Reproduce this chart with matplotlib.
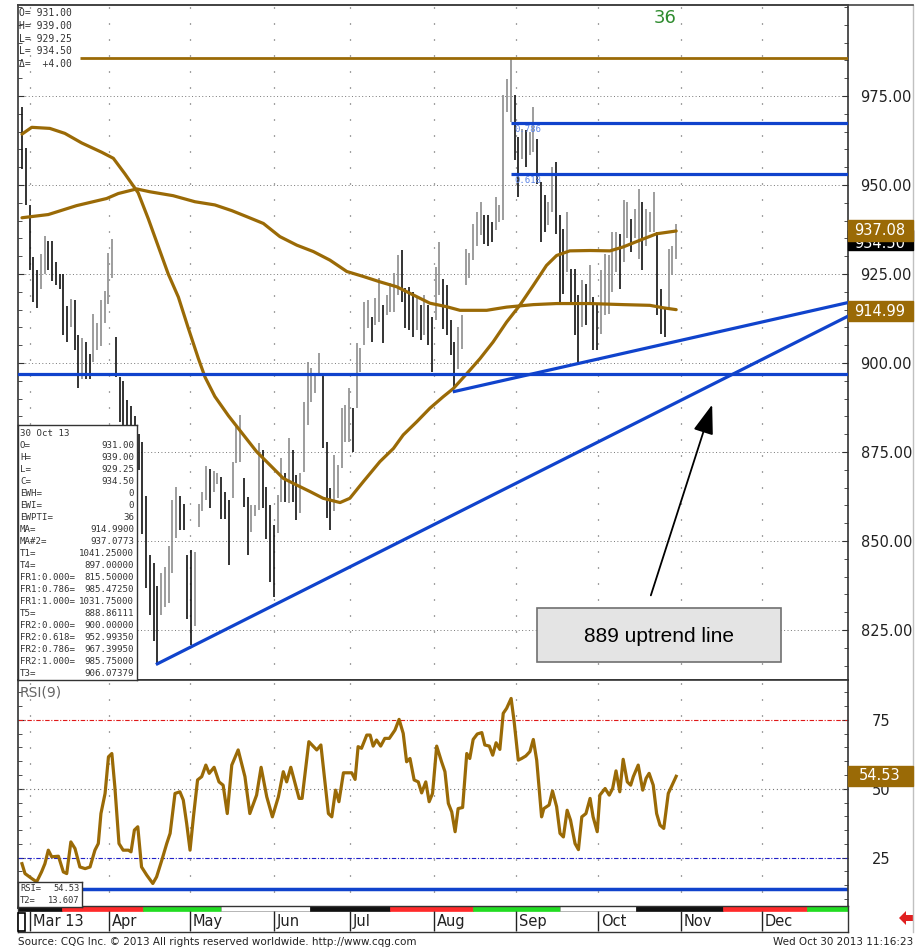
import matplotlib
matplotlib.use("Agg")
import matplotlib.pyplot as plt
from matplotlib.patches import Rectangle, Polygon
from matplotlib.lines import Line2D
from matplotlib.ticker import MultipleLocator, FixedLocator
from matplotlib.transforms import Bbox
import numpy as np

plt.rcParams['font.family'] = ['Liberation Sans Narrow', 'DejaVu Sans']

# Дневные бары (high / low), индекс = торговый день начиная с начала марта
highs = [
    971.8, 960.5, 944.4, 929.9, 926.2, 930.5, 935.8, 934.2, 934.2, 928.3,
    925.0, 925.0, 916.0, 918.1, 917.6, 907.9, 906.9, 905.8, 902.6, 913.8,
    911.2, 917.6, 920.3, 931.0, 934.8, 907.4, 896.1, 895.0, 889.7, 888.0,
    885.0, 880.0, 877.7, 862.6, 846.0, 843.8, 837.4, 841.1, 842.7, 848.7,
    861.6, 865.3, 862.6, 860.5, 846.0, 847.6, 847.0, 860.5, 863.7, 871.2,
    870.1, 869.6, 869.0, 868.0, 863.7, 861.6, 872.3, 882.0, 885.3, 867.6,
    862.5, 860.1, 860.0, 877.4, 875.6, 865.3, 860.1, 854.5, 862.9, 873.2,
    869.0, 878.8, 875.6, 868.5, 869.0, 889.1, 900.4, 898.5, 896.7, 902.7,
    896.6, 877.9, 864.8, 874.2, 871.3, 887.3, 888.2, 892.9, 887.3, 905.5,
    904.1, 917.2, 917.7, 913.0, 918.2, 923.8, 916.3, 919.1, 922.4, 925.2,
    930.3, 931.7, 921.0, 921.4, 920.0, 918.6, 916.3, 919.1, 916.3, 913.0,
    927.1, 934.1, 923.7, 921.8, 912.0, 905.9, 910.1, 913.4, 932.1, 931.0,
    939.1, 942.4, 945.2, 941.5, 941.5, 939.6, 946.6, 944.3, 975.2, 979.9,
    985.75, 975.2, 963.5, 965.8, 965.4, 964.9, 971.9, 963.0, 950.8, 947.1,
    945.2, 955.1, 956.5, 941.5, 937.7, 942.4, 926.5, 926.5, 919.0, 923.2,
    922.2, 927.4, 918.5, 916.2, 926.0, 930.7, 930.2, 936.8, 936.8, 936.3,
    945.7, 945.2, 940.5, 943.3, 949.0, 945.2, 943.3, 942.4, 948.0, 936.8,
    920.9, 915.3, 932.1, 933.0, 939.0]
lows = [
    954.6, 944.4, 926.2, 917.1, 915.4, 920.8, 925.0, 926.2, 922.9, 921.9,
    920.8, 907.9, 905.8, 910.1, 903.6, 892.9, 895.6, 895.6, 895.6, 900.4,
    903.6, 904.7, 911.2, 916.5, 924.0, 896.1, 883.3, 880.0, 878.0, 875.0,
    872.0, 870.0, 851.9, 836.8, 829.3, 821.8, 815.5, 829.3, 831.5, 832.5,
    841.1, 850.8, 853.0, 853.0, 828.2, 820.7, 826.1, 854.0, 858.3, 861.6,
    859.4, 863.7, 866.0, 856.3, 856.3, 843.3, 862.0, 871.8, 872.3, 859.6,
    846.1, 852.6, 857.0, 858.7, 859.2, 850.7, 838.6, 834.4, 852.2, 861.0,
    861.0, 860.6, 861.0, 855.9, 858.0, 869.5, 882.6, 889.1, 891.5, 896.6,
    876.0, 856.4, 853.1, 858.3, 862.0, 870.4, 877.9, 877.9, 875.1, 887.3,
    897.6, 905.0, 909.7, 906.0, 910.7, 911.6, 905.5, 913.5, 914.4, 914.4,
    919.1, 917.2, 909.7, 909.3, 907.4, 909.3, 906.5, 907.9, 905.0, 897.6,
    912.1, 919.1, 909.6, 907.8, 902.2, 892.8, 898.4, 904.0, 921.8, 924.0,
    928.8, 933.0, 935.9, 933.5, 933.0, 934.0, 937.3, 939.6, 940.1, 970.5,
    967.7, 956.9, 946.6, 957.4, 955.0, 958.3, 959.3, 950.4, 934.0, 936.8,
    938.7, 942.4, 936.3, 916.7, 919.5, 925.6, 917.1, 907.8, 900.3, 910.1,
    910.6, 917.1, 903.6, 903.6, 908.2, 913.4, 913.9, 919.9, 925.6, 920.9,
    928.4, 935.0, 931.2, 935.0, 929.3, 926.0, 933.0, 936.8, 936.8, 913.4,
    908.2, 907.3, 915.3, 924.6, 929.25]

# скользящие средние
ma2_x = [0, 2.6, 7.4, 11.4, 15.9, 21.2, 24.3, 27.4, 30.9, 33.6, 36.3, 38.9, 41.6,
         44.2, 46.9, 48.7, 51.3, 54.9, 58.9, 62.4, 66.0, 69.5, 73.1, 76.6, 80.1,
         84.6, 87.2, 90.8, 95.2, 98.8, 101.4, 105.0, 108.5, 112.0, 114.7, 118.3,
         121.8, 125.3, 128.9, 132.4, 136.0, 139.5, 142.2, 145.7, 151.1, 156.4,
         159.9, 164.4, 168.8, 174]
ma2_y = [964.3, 966.2, 965.9, 964.5, 961.8, 959.2, 957.5, 953.1, 947.8, 940.5,
         932.6, 925.0, 918.5, 909.9, 901.3, 896.0, 890.6, 885.2, 879.8, 875.1,
         871.3, 867.6, 865.7, 863.9, 862.0, 860.8, 862.0, 866.7, 872.3, 876.0,
         879.8, 883.5, 887.3, 890.5, 892.8, 897.0, 901.2, 905.9, 911.5, 916.2,
         921.8, 927.4, 930.2, 931.5, 931.6, 931.5, 932.6, 934.5, 936.3, 937.08]
ma_x = [0, 7.0, 14.5, 22.5, 25.6, 30.5, 34.0, 40.2, 46.0, 51.3, 55.8, 59.8, 64.2,
        68.6, 73.1, 77.5, 81.9, 86.4, 90.8, 95.2, 99.7, 104.1, 108.5, 113.0,
        116.5, 123.6, 128.9, 136.0, 142.2, 151.1, 159.9, 167.0, 170.6, 174]
ma_y = [940.8, 941.7, 944.2, 946.2, 947.6, 948.9, 948.1, 947.0, 945.3, 944.4,
        942.8, 941.1, 939.2, 935.5, 933.1, 931.3, 928.9, 925.7, 924.3, 922.8,
        921.4, 919.1, 916.8, 915.8, 914.8, 914.8, 915.7, 916.4, 916.7, 916.7,
        916.4, 916.2, 915.5, 914.99]

# RSI(9)
rsi_x = [0, 0.8, 2.6, 3.9, 5.2, 6.1, 7.0, 7.9, 9.7, 11.0, 11.9, 13.0, 14.1, 15.4,
         16.8, 18.1, 19.4, 20.3, 21.0, 22.1, 23.0, 23.9, 24.7, 25.8, 26.9, 28.3,
         29.0, 29.9, 30.8, 31.8, 33.2, 34.8, 35.8, 37.2, 38.5, 39.4, 40.7, 42.0,
         42.9, 43.8, 44.7, 45.6, 46.7, 47.8, 48.9, 49.8, 51.1, 52.4, 53.5, 54.6,
         55.8, 57.5, 59.3, 60.6, 62.4, 63.6, 65.1, 66.6, 68.2, 69.5, 70.4, 71.5,
         73.7, 74.5, 76.3, 78.4, 79.5, 81.5, 82.4, 83.4, 84.3, 85.5, 87.7, 88.6,
         89.4, 90.3, 91.7, 92.6, 93.4, 94.3, 95.4, 96.5, 97.7, 99.2, 100.3, 101.4,
         102.3, 103.2, 104.3, 105.4, 106.3, 107.4, 108.3, 109.2, 110.3, 111.6,
         112.5, 113.4, 114.3, 115.2, 116.0, 117.2, 118.3, 119.1, 120.0, 121.1,
         122.3, 123.1, 124.3, 125.2, 126.1, 127.1, 128.0, 128.9, 130.1, 130.9,
         132.0, 132.9, 134.0, 135.1, 136.0, 136.9, 138.2, 138.8, 140.2, 141.1,
         142.2, 143.1, 144.0, 145.0, 145.9, 147.1, 148.0, 148.9, 150.0, 151.1,
         151.9, 153.0, 153.7, 155.1, 156.2, 157.1, 158.0, 159.0, 159.9, 161.0,
         161.9, 162.6, 163.9, 165.1, 166.0, 166.8, 167.9, 168.8, 169.7, 170.7,
         171.9, 174.0]
rsi_y = [22.8, 19.2, 17.4, 16.2, 19.8, 22.8, 27.7, 25.3, 25.5, 19.8, 19.2, 30.7,
         28.3, 21.6, 21.0, 21.6, 27.7, 30.1, 41.0, 48.3, 61.6, 62.8, 50.7, 30.1,
         27.7, 27.7, 27.1, 35.0, 36.2, 21.6, 18.6, 15.6, 18.0, 24.1, 30.1, 33.8,
         48.3, 48.9, 45.9, 37.4, 27.7, 39.8, 53.2, 54.4, 58.6, 55.6, 57.8, 52.5,
         51.3, 41.0, 58.6, 64.1, 54.4, 41.0, 47.7, 57.8, 47.1, 39.8, 47.1, 56.2,
         52.5, 57.8, 46.5, 46.5, 67.1, 64.1, 65.9, 41.0, 39.8, 49.5, 45.3, 55.8,
         55.8, 53.4, 65.3, 64.7, 69.5, 69.5, 65.5, 67.7, 65.5, 68.3, 68.3, 71.3,
         75.2, 70.1, 59.8, 61.0, 53.2, 52.5, 48.5, 52.5, 45.3, 48.3, 65.5, 59.8,
         56.2, 44.7, 41.6, 34.4, 42.8, 43.2, 62.8, 61.0, 67.9, 69.9, 70.4, 65.9,
         65.5, 62.2, 66.7, 64.3, 77.4, 79.2, 82.8, 74.4, 60.4, 61.0, 61.9, 63.5,
         67.9, 60.4, 39.8, 42.8, 44.1, 49.2, 43.5, 33.8, 32.5, 42.2, 38.6, 30.1,
         27.9, 39.8, 41.0, 46.5, 39.8, 34.4, 47.7, 50.1, 47.7, 50.1, 56.5, 48.9,
         60.7, 52.5, 51.3, 54.4, 58.6, 49.5, 53.8, 55.6, 51.3, 41.0, 36.8, 35.6,
         48.3, 54.53]

# уровни и трендовые линии
fr1_top = 985.75
fr1_start = 15.4
fib_levels = [967.3995, 952.9935]
fib_names = ["0.786", "0.618"]
fib_start = 130
t4_level = 897.0
trend1_x = [36, 174]
trend1_y = [815.5, 888.86111]
trend2_x = [115, 174]
trend2_y = [892.0, 906.07379]
rsi_t2 = 13.607

month_pos = [2.1, 23.1, 44.7, 67.0, 87.2, 109.6, 131.4, 153.2, 175.3, 196.8]
month_lbl = ["Mar 13", "Apr", "May", "Jun", "Jul", "Aug", "Sep", "Oct", "Nov", "Dec"]
stripe_edges = [-1.06, 10.6, 32.2, 52.9, 76.6, 97.9, 119.9, 143.1, 163.3, 186.4, 208.8, 219.7]
stripe_cols = ['#111111', '#ff2a2a', '#22dd22', '#ffffff', '#111111', '#ff2a2a',
               '#22dd22', '#ffffff', '#111111', '#ff2a2a', '#22dd22']

info_lbl = ["30 Oct 13", "O=", "H=", "L=", "C=", "EWH=", "EWI=", "EWPTI=", "MA=", "MA#2=",
            "T1=", "T4=", "FR1:0.000=", "FR1:0.786=", "FR1:1.000=", "T5=", "FR2:0.000=",
            "FR2:0.618=", "FR2:0.786=", "FR2:1.000=", "T3="]
info_val = ["", "931.00", "939.00", "929.25", "934.50", "0", "0", "36", "914.9900", "937.0773",
            "1041.25000", "897.00000", "815.50000", "985.47250", "1031.75000", "888.86111",
            "900.00000", "952.99350", "967.39950", "985.75000", "906.07379"]
ohlc_txt = ["O= 931.00", "H= 939.00", "L= 929.25", "L= 934.50", "\u0394=  +4.00"]

GOLD = '#9a6a06'
BLUE = '#1043cc'
XMIN, XMAX = -1.06, 219.7
W, H = 918, 949


def fx(x):
    return x / W


def fy(y):
    return 1 - y / H


def px_rect(x0, y0, x1, y1, **kw):
    return Rectangle((fx(x0), fy(y1)), (x1 - x0) / W, (y1 - y0) / H,
                     transform=fig.transFigure, **kw)


fig = plt.figure(figsize=(W / 100, H / 100), dpi=100)
fig.patch.set_facecolor('white')

# ---- основная панель ----
ax = fig.add_axes([fx(18), fy(680), 830 / W, 675 / H])
ax.set_xlim(XMIN, XMAX)
ax.set_ylim(810.96, 1000.56)
ax.set_xticks([])
ax.yaxis.set_major_locator(FixedLocator([825, 850, 875, 900, 925, 950, 975]))
ax.yaxis.set_minor_locator(MultipleLocator(5))
ax.yaxis.set_major_formatter(matplotlib.ticker.FormatStrFormatter('%.2f'))
ax.tick_params(axis='y', which='both', direction='in', left=True, right=True,
               labelleft=False, labelright=True, colors='#333333')
ax.tick_params(axis='y', which='major', length=4, pad=9, labelsize=10.5, labelcolor='#222222')
ax.tick_params(axis='y', which='minor', length=3)
for s in ax.spines.values():
    s.set_color('#333333')
    s.set_linewidth(1.2)

for lv in [825, 850, 875, 900, 925, 950, 975]:
    ax.axhline(lv, color='#777777', ls=(0, (1, 2.5)), lw=0.7, zorder=0)
for m in month_pos:
    ax.axvline(m, color='#444444', ls=(0, (0.8, 12)), lw=0.9, zorder=0)

n = len(highs)
idx = np.arange(n)
mids = (np.array(highs) + np.array(lows)) / 2
cols = ['#111111'] + ['#8c8c8c' if mids[i] >= mids[i - 1] else '#111111' for i in range(1, n)]
ax.vlines(idx, lows, highs, colors=cols, lw=1.2, zorder=2)

ax.plot(ma2_x, ma2_y, color=GOLD, lw=2.3, zorder=3, solid_capstyle='round')
ax.plot(ma_x, ma_y, color=GOLD, lw=2.3, zorder=3, solid_capstyle='round')

ax.hlines(fr1_top, fr1_start, XMAX, color=GOLD, lw=2.0, zorder=3)
ax.hlines(fib_levels, fib_start, XMAX, color=BLUE, lw=2.3, zorder=3)
for lv, nm in zip(fib_levels, fib_names):
    ax.text(fib_start + 1, lv - 0.6, nm, color='#5b84e6', fontsize=6.5, va='top', ha='left',
            family='DejaVu Sans Mono', zorder=4)
ax.axhline(t4_level, color=BLUE, lw=2.3, zorder=3)

s1 = (trend1_y[1] - trend1_y[0]) / (trend1_x[1] - trend1_x[0])
s2 = (trend2_y[1] - trend2_y[0]) / (trend2_x[1] - trend2_x[0])
ax.plot([trend1_x[0], XMAX], [trend1_y[0], trend1_y[0] + s1 * (XMAX - trend1_x[0])],
        color=BLUE, lw=2.3, zorder=3)
ax.plot([trend2_x[0], XMAX], [trend2_y[0], trend2_y[0] + s2 * (XMAX - trend2_x[0])],
        color=BLUE, lw=2.3, zorder=3)

fig.text(fx(665), fy(18), "36", color='#2e8b2e', fontsize=13, ha='center', va='center',
         family='DejaVu Sans')
for i, t in enumerate(ohlc_txt):
    fig.text(fx(19), fy(13 + 12.8 * i), t, fontsize=7, family='DejaVu Sans Mono',
             color='#333333', va='center', ha='left')

# таблица значений
ax_info = fig.add_axes([fx(18), fy(680), 119 / W, 255 / H], zorder=5)
ax_info.set_xticks([])
ax_info.set_yticks([])
ax_info.set_facecolor('white')
for s in ax_info.spines.values():
    s.set_color('#333333')
    s.set_linewidth(1)
for i, (a, b) in enumerate(zip(info_lbl, info_val)):
    yy = 1 - (433 + 12 * i - 425) / 255
    ax_info.text(2 / 119, yy, a, fontsize=6.6, family='DejaVu Sans Mono', color='#333333',
                 va='center', ha='left', transform=ax_info.transAxes)
    if b:
        ax_info.text(1 - 3 / 119, yy, b, fontsize=6.6, family='DejaVu Sans Mono',
                     color='#333333', va='center', ha='right', transform=ax_info.transAxes)

# аннотация
ax.annotate("", xy=(fx(713), fy(402)), xycoords='figure fraction',
            xytext=(fx(650), fy(598)), textcoords='figure fraction',
            arrowprops=dict(arrowstyle='-|>,head_length=1.3,head_width=0.45',
                            color='black', lw=1.3, mutation_scale=14))
fig.add_artist(px_rect(537, 608, 781, 662, fc='#e4e4e4', ec='#707070', lw=1.2, zorder=6))
fig.text(fx(659), fy(636), "889 uptrend line", ha='center', va='center', fontsize=15,
         family='Liberation Sans', zorder=7)

# ---- RSI ----
axr = fig.add_axes([fx(18), fy(908), 830 / W, 228 / H])
axr.set_xlim(XMIN, XMAX)
axr.set_ylim(6.7, 89.5)
axr.set_xticks([])
axr.yaxis.set_major_locator(FixedLocator([25, 50, 75]))
axr.yaxis.set_minor_locator(MultipleLocator(5))
axr.tick_params(axis='y', which='both', direction='in', left=True, right=True,
                labelleft=False, labelright=True, colors='#333333')
axr.tick_params(axis='y', which='major', length=4, pad=17, labelsize=10.5, labelcolor='#222222')
axr.tick_params(axis='y', which='minor', length=3)
for s in axr.spines.values():
    s.set_color('#333333')
    s.set_linewidth(1.2)
for m in month_pos:
    axr.axvline(m, color='#444444', ls=(0, (0.8, 12)), lw=0.9, zorder=0)
axr.axhline(75, color='#e01818', ls=(0, (4, 1.5, 1, 1.5)), lw=0.8)
axr.axhline(50, color='#777777', ls=(0, (1, 2.5)), lw=0.8)
axr.axhline(25, color='#2020c8', ls=(0, (4, 1.5, 1, 1.5)), lw=0.8)
axr.axhline(rsi_t2, color=BLUE, lw=2.5)
axr.plot(rsi_x, rsi_y, color=GOLD, lw=2.3, solid_joinstyle='round')
fig.text(fx(20), fy(692), "RSI(9)", fontsize=10, color='#666666', va='center', ha='left')

ax_rb = fig.add_axes([fx(18), fy(907), 64 / W, 25 / H], zorder=5)
ax_rb.set_xticks([])
ax_rb.set_yticks([])
for s in ax_rb.spines.values():
    s.set_color('#333333')
    s.set_linewidth(1)
ax_rb.text(0.03, 0.74, "RSI=", fontsize=6.3, family='DejaVu Sans Mono', color='#333333',
           va='center', transform=ax_rb.transAxes)
ax_rb.text(0.96, 0.74, "54.53", fontsize=6.3, family='DejaVu Sans Mono', color='#333333',
           va='center', ha='right', transform=ax_rb.transAxes)
ax_rb.text(0.03, 0.26, "T2=", fontsize=6.3, family='DejaVu Sans Mono', color='#333333',
           va='center', transform=ax_rb.transAxes)
ax_rb.text(0.96, 0.26, "13.607", fontsize=6.3, family='DejaVu Sans Mono', color='#333333',
           va='center', ha='right', transform=ax_rb.transAxes)

# ---- ось дат ----
axd = fig.add_axes([fx(18), fy(932), 830 / W, 26 / H], zorder=4)
axd.set_xlim(XMIN, XMAX)
axd.set_ylim(0, 1)
axd.set_xticks([])
axd.set_yticks([])
for s in axd.spines.values():
    s.set_color('#333333')
    s.set_linewidth(1)
for i, c in enumerate(stripe_cols):
    axd.add_patch(Rectangle((stripe_edges[i], 0.81), stripe_edges[i + 1] - stripe_edges[i], 0.19,
                            fc=c, ec='#999999' if c == '#ffffff' else c, lw=0.5))
for m, lab in zip(month_pos, month_lbl):
    axd.vlines(m, 0.03, 0.81, color='#222222', lw=1)
    axd.text(m + 0.8, 0.4, lab, fontsize=10.5, va='center', ha='left', color='#222222')
fig.add_artist(px_rect(18, 913, 25, 931, fc='white', ec='black', lw=1.2, zorder=6))

# ---- правая шкала: значения ----
fig.add_artist(px_rect(848, 230, 913, 250, fc='black', ec='black', zorder=6))
t_close = fig.text(fx(880), fy(244), "934.50", color='white', fontsize=10.5, ha='center',
                   va='center', family='DejaVu Sans', zorder=7)
fig.canvas.draw()
t_close.set_clip_box(Bbox.from_extents(848, H - 250, 913, H - 241))
fig.add_artist(px_rect(848, 220, 913, 241, fc=GOLD, ec=GOLD, zorder=8))
fig.text(fx(880), fy(230.5), "937.08", color='white', fontsize=10.5, ha='center', va='center',
         family='DejaVu Sans', zorder=9)
fig.add_artist(px_rect(848, 301, 913, 321, fc=GOLD, ec=GOLD, zorder=8))
fig.text(fx(880), fy(311), "914.99", color='white', fontsize=10.5, ha='center', va='center',
         family='DejaVu Sans', zorder=9)
fig.add_artist(px_rect(848, 766, 913, 786, fc=GOLD, ec=GOLD, zorder=8))
fig.text(fx(880), fy(776), "54.53", color='white', fontsize=10.5, ha='center', va='center',
         family='DejaVu Sans', zorder=9)

# рамки и подписи
fig.add_artist(Line2D([fx(913), fx(913)], [fy(5), fy(932)], transform=fig.transFigure,
                      color='#c0c0c0', lw=1))
fig.add_artist(Line2D([fx(18), fx(913)], [fy(5), fy(5)], transform=fig.transFigure,
                      color='#444444', lw=1.2))
arrow_pts = [(899, 918), (906, 911), (906, 915), (913, 915), (913, 921), (906, 921), (906, 925)]
fig.add_artist(Polygon([(fx(a), fy(b)) for a, b in arrow_pts], closed=True,
                       transform=fig.transFigure, fc='#e02020', ec='none'))
fig.text(fx(18), fy(942), "Source: CQG Inc. \u00a9 2013 All rights reserved worldwide. http://www.cqg.com",
         fontsize=7.5, va='center', ha='left', color='#222222')
fig.text(fx(913), fy(942), "Wed Oct 30 2013 11:16:23", fontsize=7.5, va='center', ha='right',
         color='#222222')

fig.savefig("out.png", dpi=100)
